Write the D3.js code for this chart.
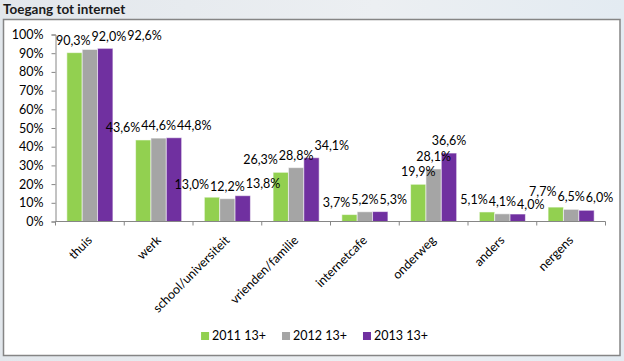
<!DOCTYPE html>
<html><head><meta charset="utf-8">
<script src="https://cdn.jsdelivr.net/npm/d3@7"></script>
<style>
html,body{margin:0;padding:0;background:#e6eaee;}
svg{display:block;}
text{font-family:Lato,"Open Sans",sans-serif;}
</style></head>
<body>
<svg id="c" width="624" height="361"></svg>
<script>
const categories = ["thuis","werk","school/universiteit","vrienden/familie","internetcafe","onderweg","anders","nergens"];
const seriesNames = ["2011 13+","2012 13+","2013 13+"];
const values2011 = [90.3,43.6,13.0,26.3,3.7,19.9,5.1,7.7];
const values2012 = [92.0,44.6,12.2,28.8,5.2,28.1,4.1,6.5];
const values2013 = [92.6,44.8,13.8,34.1,5.3,36.6,4.0,6.0];
const yTicks = [0,10,20,30,40,50,60,70,80,90,100];
const colors = ["#92d050","#a5a5a5","#7030a0"];
const seriesValues = [values2011, values2012, values2013];

const svg = d3.select("#c");
const W = 624, H = 361;

// background
const defs = svg.append("defs");
const bg = defs.append("linearGradient").attr("id","bg").attr("x1","0").attr("y1","0").attr("x2","1").attr("y2","0");
bg.append("stop").attr("offset","0").attr("stop-color","#e2e7ec");
bg.append("stop").attr("offset","0.6").attr("stop-color","#eceff2");
bg.append("stop").attr("offset","1").attr("stop-color","#e3ebf2");
svg.append("rect").attr("width",W).attr("height",H).attr("fill","url(#bg)");

svg.append("text").attr("x",3).attr("y",14).attr("font-size",13.5).attr("font-weight","bold")
  .attr("fill","#1a1a1a").text("Toegang tot internet");

svg.append("rect").attr("x",3.5).attr("y",19.5).attr("width",616.5).attr("height",336)
  .attr("fill","#ffffff").attr("stroke","#858585").attr("stroke-width",1.5);

const x0 = d3.scaleBand().domain(categories).range([55.5,605.5]).paddingInner(0.33).paddingOuter(0.165);
const x1 = d3.scaleBand().domain(seriesNames).range([0,x0.bandwidth()]);
const y = d3.scaleLinear().domain([0,100]).range([221.5,34.5]);

// y axis
const yAxis = svg.append("g").attr("transform","translate(55.5,0)")
  .call(d3.axisLeft(y).tickValues(yTicks).tickSize(4).tickPadding(8).tickFormat(d=>d+"%"));
yAxis.select(".domain").attr("stroke","#868686");
yAxis.selectAll(".tick line").attr("stroke","#868686");
yAxis.selectAll(".tick text").attr("font-size",12.5).attr("fill","#000").attr("font-family","Lato,sans-serif");

// bars
const groups = svg.append("g").selectAll("g").data(categories).join("g")
  .attr("transform",d=>`translate(${x0(d)},0)`);
groups.selectAll("rect").data((c,i)=>seriesNames.map((s,j)=>({s,j,v:seriesValues[j][i]})))
  .join("rect")
  .attr("x",d=>x1(d.s)).attr("width",x1.bandwidth())
  .attr("y",d=>y(d.v)).attr("height",d=>y(0)-y(d.v))
  .attr("fill",d=>colors[d.j]).attr("stroke","rgba(255,255,255,0.55)").attr("stroke-width",1);

// x axis
const step = x0.step();
const xAxisG = svg.append("g");
xAxisG.append("line").attr("x1",55.5).attr("x2",605.5).attr("y1",221.5).attr("y2",221.5).attr("stroke","#868686");
const boundaries = d3.range(categories.length+1).map(i=>x0.range()[0]+i*step);
xAxisG.selectAll("line.t").data(boundaries).join("line").attr("class","t")
  .attr("x1",d=>d).attr("x2",d=>d).attr("y1",221.5).attr("y2",225.5).attr("stroke","#868686");
xAxisG.selectAll("text").data(categories).join("text")
  .attr("transform",d=>`translate(${x0(d)+x0.bandwidth()/2+3},241) rotate(-45)`)
  .attr("text-anchor","end").attr("font-size",12.5).attr("fill","#000").text(d=>d);

// data labels with simple collision avoidance
const fmt = v => v.toFixed(1).replace(".",",")+"%";
const lg = svg.append("g");
const labs = [];
const TH = 10;
categories.forEach((c,i)=>{
  const grp = [];
  seriesNames.forEach((s,j)=>{
    const v = seriesValues[j][i];
    const t = lg.append("text").attr("font-size",12.5).attr("fill","#000").attr("text-anchor","middle").text(fmt(v));
    const w = t.node().getComputedTextLength();
    grp.push({t, w, g:i, cx: x0(c)+x1(s)+x1.bandwidth()/2, by: y(v)-8});
  });
  // within-group horizontal spreading
  for(let it=0; it<300; it++){
    let moved=false;
    for(let a=0;a<grp.length;a++) for(let b=a+1;b<grp.length;b++){
      const A=grp[a], B=grp[b];
      if(Math.abs(A.by-B.by) < TH){
        const need = (A.w+B.w)/2 + 1;
        const d = B.cx - A.cx;
        if(d < need){ const p=(need-d)/2; A.cx-=p; B.cx+=p; moved=true; }
      }
    }
    grp.forEach(L=>{
      if(L.cx - L.w/2 < 56) L.cx = 56 + L.w/2;
      if(L.cx + L.w/2 > 619) L.cx = 619 - L.w/2;
    });
    if(!moved) break;
  }
  labs.push(...grp);
});
// between-group: resolve by small vertical nudges
const TV = 12.5;
for(let a=0;a<labs.length;a++) for(let b=a+1;b<labs.length;b++){
  const A=labs[a], B=labs[b];
  if(A.g===B.g) continue;
  const dx = Math.abs(A.cx-B.cx) < (A.w+B.w)/2;
  const dyv = Math.abs(A.by-B.by);
  if(dx && dyv < TV){
    const p = (TV-dyv)/2;
    if(A.by > B.by){ A.by += p; B.by -= p; } else { A.by -= p; B.by += p; }
  }
}
labs.forEach(L=>L.t.attr("x",L.cx).attr("y",L.by));

// legend
const leg = svg.append("g");
let lx = 0;
seriesNames.forEach((s,j)=>{
  const g = leg.append("g");
  g.append("rect").attr("x",0).attr("y",-7).attr("width",8).attr("height",8).attr("fill",colors[j]);
  const t = g.append("text").attr("x",11).attr("y",1).attr("font-size",12.5).attr("fill","#000").text(s);
  const w = 11 + t.node().getComputedTextLength();
  g.attr("transform",`translate(${lx},0)`);
  lx += w + 16;
});
const totalW = lx - 16;
leg.attr("transform",`translate(${314.5 - totalW/2},339)`);
</script>
</body></html>
